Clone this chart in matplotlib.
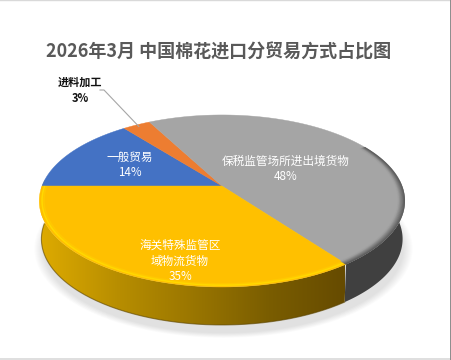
import numpy as np
import matplotlib
matplotlib.use("Agg")
import matplotlib.pyplot as plt
from matplotlib.patches import Polygon
from matplotlib.colors import LinearSegmentedColormap

plt.rcParams['font.family'] = ['Noto Sans CJK SC', 'DejaVu Sans']

title = "2026年3月 中国棉花进口分贸易方式占比图"
categories = ["一般贸易", "进料加工", "保税监管场所进出境货物", "海关特殊监管区\n域物流货物"]
shares = [14.4, 2.9, 47.6, 35.1]
face_colors = ["#4472C4", "#ED7D31", "#A5A5A5", "#FFC000"]

# view of the tilted disc, in pixels
APEX = (222.0, 186.0)
A, B, Q = 180.0, 83.4, 0.174
DEPTH = 38.0


def project(phi_deg, r=1.0):
    """phi measured clockwise from the left; perspective view of a disc."""
    p = np.radians(np.asarray(phi_deg, dtype=float))
    ux, uy = -r * np.cos(p), -r * np.sin(p)
    d = 1 - Q * uy
    return APEX[0] + A * ux / d, APEX[1] + B * uy / d


fig = plt.figure(figsize=(4.52, 3.6), dpi=100)
ax = fig.add_axes([0, 0, 1, 1])
ax.set_xlim(0, 452)
ax.set_ylim(360, 0)
ax.axis("off")

edges = np.concatenate([[0], np.cumsum(shares) / np.sum(shares) * 360])
full = np.linspace(0, 360, 361)

# soft shadow
fx, fy = project(full)
for grow in np.linspace(1.035, 0.985, 10):
    cx, cy = APEX[0] + 1, 206 + DEPTH - 3
    ax.fill(cx + (fx - fx.mean()) * grow, cy + (fy - fy.mean()) * grow,
            color="#000000", alpha=0.013, lw=0, zorder=1)


def wall(a0, a1):
    t = np.linspace(a0, a1, 200)
    x, y = project(t)
    xb = APEX[0] + (x - APEX[0]) * 0.988
    return np.column_stack([np.r_[x, xb[::-1]], np.r_[y, (y + DEPTH)[::-1]]])


# side walls (front half only is visible)
ax.add_patch(Polygon(wall(176, edges[3]), closed=True, fc="#404040", ec="none", zorder=2))

cmap = LinearSegmentedColormap.from_list(
    "side", ["#DDAA00", "#B88E00", "#9A7600", "#7A5D00", "#664B00"])
yw = Polygon(wall(edges[3], 366), closed=True, fc="none", ec="none", zorder=3)
ax.add_patch(yw)
im = ax.imshow(np.linspace(0, 1, 256)[None, :], cmap=cmap, extent=(41, 345, 340, 180),
               aspect="auto", zorder=3)
im.set_clip_path(yw)
ax.set_xlim(0, 452)
ax.set_ylim(360, 0)
# soft dark lower edge of the yellow wall
t = np.linspace(edges[3], 360, 200)
x, y = project(t)
ax.plot(APEX[0] + (x - APEX[0]) * 0.988, y + DEPTH, color="#5A4300", lw=0.8, alpha=0.6, zorder=3.1)

# top faces
for a0, a1, c in zip(edges[:-1], edges[1:], face_colors):
    t = np.linspace(a0, a1, max(int(a1 - a0) * 2, 4))
    x, y = project(t)
    ax.add_patch(Polygon(np.column_stack([np.r_[APEX[0], x], np.r_[APEX[1], y]]),
                         closed=True, fc=c, ec=c, lw=0.3, zorder=4))

# bevel on the rim
t = np.linspace(edges[3], 360, 200)
for r, c, lw, al in [(0.985, "#FFDE00", 1.1, 0.85), (0.975, "#FFD000", 1.2, 0.5)]:
    ax.plot(*project(t, r), color=c, lw=lw, alpha=al, zorder=5, solid_capstyle="butt")
t2 = np.linspace(150, edges[3], 240)
for i, r in enumerate(np.linspace(0.998, 0.965, 9)):
    x, y = project(t2, r)
    col = np.interp(i, [0, 8], [0x50, 0xA0]) / 255
    ax.plot(x, y, color=(col, col, col), lw=0.9, alpha=0.8, zorder=5)

# leader line
mid = (edges[1] + edges[2]) / 2
lx, ly = project(mid, 0.97)
ax.plot([100, 104, lx], [90, 90, ly], color="#A6A6A6", lw=0.8, zorder=6)

# labels
pct = [f"{v:.0f}%" for v in shares]
label_pos = [(130, 157, "white"), (80, 82, "#111111"), (286, 161, "white"), (180, 245, "white")]
LINE = 16
for name, p, (lxx, lyy, col) in zip(categories, pct, label_pos):
    lines = name.split("\n") + [p]
    for i, s in enumerate(lines):
        ax.text(lxx, lyy + i * LINE, s, color=col, fontsize=8.4 if col == "white" else 8,
                fontweight="bold" if col != "white" else "normal",
                ha="center", va="center", zorder=7)

ax.text(218.5, 52, title, color="#595959", fontsize=13, fontweight="bold",
        ha="center", va="center", zorder=7)

# picture border
ax.plot([0, 452], [0.3, 0.3], color="#D9D9D9", lw=1, zorder=8)
ax.plot([0, 452], [359.2, 359.2], color="#D9D9D9", lw=1.2, zorder=8)
ax.plot([451, 451], [0, 360], color="#8C8C8C", lw=1.4, zorder=8)

fig.savefig("out.png", dpi=100)
